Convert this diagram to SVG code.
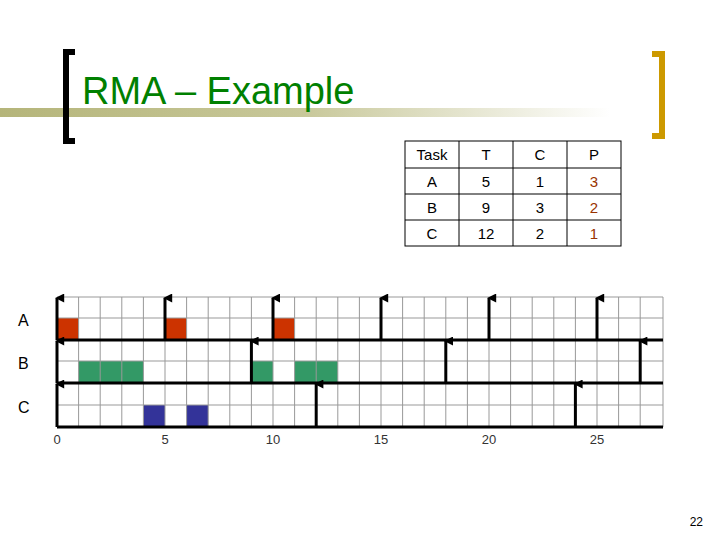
<svg xmlns="http://www.w3.org/2000/svg" width="720" height="540" viewBox="0 0 720 540">
<style>
text{font-family:"Liberation Sans",Arial,sans-serif}
.g{stroke:#999;stroke-width:1}
.ax{stroke:#000;stroke-width:3}
.tb{fill:none;stroke:#000;stroke-width:1}
.tt{font-size:15px;text-anchor:middle;fill:#000}
.p{fill:#993300}
.lab{font-size:16px;fill:#000}
.num{font-size:13px;text-anchor:middle;fill:#333}
.ra{fill:#cc3300}.gb{fill:#339966}.bc{fill:#333399}
</style>
<defs>
<linearGradient id="bar" x1="0" x2="1"><stop offset="0" stop-color="#b5b57a"/><stop offset="0.5" stop-color="#c8c89a"/><stop offset="1" stop-color="#fff"/></linearGradient>
<marker id="ah" viewBox="0 0 10 10" refX="5" refY="2" markerWidth="3" markerHeight="3.2" orient="auto"><path d="M0,10 L5,0 L10,10 Z" fill="#000"/></marker>
</defs>
<rect x="0" y="108" width="610" height="9" fill="url(#bar)"/>
<path d="M75,52 H66 V141 H75" fill="none" stroke="#000" stroke-width="6"/>
<path d="M652,54 H662 V136 H652" fill="none" stroke="#cc9900" stroke-width="6"/>
<text x="82" y="104" font-size="38" fill="#008000">RMA – Example</text>
<g id="table">
<rect class="tb" x="405" y="141" width="216" height="105"/>
<path class="tb" d="M405,168H621M405,194H621M405,220H621M459,141V246M513,141V246M567,141V246"/>
<text class="tt" x="432" y="160">Task</text><text class="tt" x="486" y="160">T</text><text class="tt" x="540" y="160">C</text><text class="tt" x="594" y="160">P</text>
<text class="tt" x="432" y="187">A</text><text class="tt" x="486" y="187">5</text><text class="tt" x="540" y="187">1</text><text class="tt p" x="594" y="187">3</text>
<text class="tt" x="432" y="213">B</text><text class="tt" x="486" y="213">9</text><text class="tt" x="540" y="213">3</text><text class="tt p" x="594" y="213">2</text>
<text class="tt" x="432" y="239">C</text><text class="tt" x="486" y="239">12</text><text class="tt" x="540" y="239">2</text><text class="tt p" x="594" y="239">1</text>
</g>
<g id="blocks">
<rect class="ra" x="57" y="318" width="21.6" height="22"/><rect class="ra" x="165" y="318" width="21.6" height="22"/><rect class="ra" x="273" y="318" width="21.6" height="22"/>
<rect class="gb" x="78.6" y="361" width="64.8" height="22"/><rect class="gb" x="251.4" y="361" width="21.6" height="22"/><rect class="gb" x="294.6" y="361" width="43.2" height="22"/>
<rect class="bc" x="143.4" y="405" width="21.6" height="22"/><rect class="bc" x="186.6" y="405" width="21.6" height="22"/>
</g>
<g id="grid">
<path class="g" d="M57,297H663M57,318H663M57,361H663M57,405H663M663,297V427
M78.6,297V427M100.2,297V427M121.8,297V427M143.4,297V427M165,297V427M186.6,297V427M208.2,297V427M229.8,297V427M251.4,297V427M273,297V427M294.6,297V427M316.2,297V427M337.8,297V427M359.4,297V427M381,297V427M402.6,297V427M424.2,297V427M445.8,297V427M467.4,297V427M489,297V427M510.6,297V427M532.2,297V427M553.8,297V427M575.4,297V427M597,297V427M618.6,297V427M640.2,297V427"/>
<path class="ax" d="M57,340H663M57,383H663M57,427H663"/>
</g>
<g id="connectors" class="ax" marker-end="url(#ah)">
<line x1="57" y1="340" x2="57" y2="298"/><line x1="165" y1="340" x2="165" y2="298"/><line x1="273" y1="340" x2="273" y2="298"/><line x1="381" y1="340" x2="381" y2="298"/><line x1="489" y1="340" x2="489" y2="298"/><line x1="597" y1="340" x2="597" y2="298"/>
<line x1="57" y1="383" x2="57" y2="341"/><line x1="251.4" y1="383" x2="251.4" y2="341"/><line x1="445.8" y1="383" x2="445.8" y2="341"/><line x1="640.2" y1="383" x2="640.2" y2="341"/>
<line x1="57" y1="427" x2="57" y2="384"/><line x1="316.2" y1="427" x2="316.2" y2="384"/><line x1="575.4" y1="427" x2="575.4" y2="384"/>
</g>
<text class="lab" x="18" y="326">A</text><text class="lab" x="18" y="369">B</text><text class="lab" x="18" y="413">C</text>
<text class="num" x="57" y="444">0</text><text class="num" x="165" y="444">5</text><text class="num" x="273" y="444">10</text><text class="num" x="381" y="444">15</text><text class="num" x="489" y="444">20</text><text class="num" x="597" y="444">25</text>
<text x="703" y="526" font-size="12" text-anchor="end" fill="#000">22</text>
</svg>
